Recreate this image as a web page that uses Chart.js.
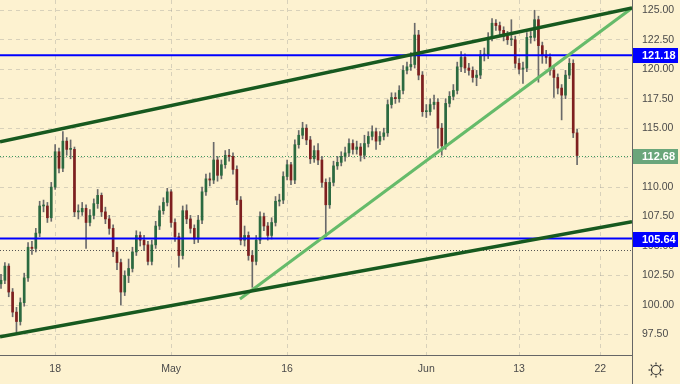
<!DOCTYPE html>
<html><head><meta charset="utf-8">
<script src="https://cdn.jsdelivr.net/npm/chart.js@4.4.1/dist/chart.umd.min.js"></script>
<style>html,body{margin:0;padding:0;background:#FDF2D0;}canvas{display:block}</style>
</head><body>
<canvas id="c" width="680" height="384"></canvas>
<script>
// ---- data (8-hour bars, 3 per trading day) ----
const firstOpen = 101.8;
const closes = [102.1,103.3,101.1,99.4,98.6,100.2,102.3,104.9,104.8,106.1,
108.4,108.4,107.4,110.0,113.0,111.6,113.9,113.2,113.2,107.9,
107.9,108.2,107.0,107.6,108.6,109.3,107.9,107.3,106.5,104.5,
103.6,101.1,102.5,103.1,104.5,105.9,105.5,105.1,103.7,105.1,
106.7,108.0,108.7,109.6,107.0,105.8,104.2,108.0,107.3,106.5,
105.6,107.2,109.6,110.7,110.6,112.3,111.0,111.9,112.7,112.6,
111.5,108.9,105.5,105.9,104.2,103.7,105.5,107.5,106.7,105.9,
107.0,108.8,108.9,110.9,111.9,110.6,113.6,114.4,115.0,114.0,
112.4,113.1,112.3,110.4,108.5,110.4,111.8,112.1,112.6,112.9,
113.7,113.2,113.4,112.7,113.7,114.3,114.7,113.9,114.3,114.6,
117.0,117.6,117.5,118.2,119.9,120.2,120.4,122.9,119.5,116.4,
116.4,117.0,117.2,115.0,113.5,117.1,117.7,118.2,120.2,121.0,
120.1,119.9,119.3,119.5,121.2,121.2,122.7,123.9,123.7,123.3,
122.8,122.5,122.5,120.5,120.0,120.1,122.7,122.7,124.2,122.0,
121.2,121.0,119.9,119.3,118.4,117.8,119.5,120.5,114.6,112.68];
const highs = [102.6,103.6,103.5,101.4,99.8,100.6,102.7,105.3,105.4,106.5,
108.8,108.9,108.7,110.4,113.6,113.3,114.7,114.2,114.0,113.4,
108.5,108.7,108.5,108.1,109.0,109.8,109.5,108.3,107.6,106.8,
104.9,103.9,102.9,103.9,104.9,106.3,106.2,105.9,105.4,105.5,
107.1,108.4,109.1,109.9,109.8,107.3,106.1,108.4,108.5,107.6,
106.8,107.6,110.0,111.1,111.2,113.8,112.6,112.3,113.1,113.2,
112.9,111.8,109.2,106.7,106.2,104.6,105.9,107.9,107.8,107.0,
107.4,109.2,109.4,111.3,112.3,112.1,114.0,114.8,115.5,115.3,
114.3,113.5,113.7,112.6,110.7,110.8,112.2,112.6,113.0,113.4,
114.1,114.0,113.9,113.7,114.4,114.7,115.2,115.0,114.7,115.0,
117.4,118.0,118.0,118.6,120.3,120.6,121.4,123.9,123.3,119.8,
117.0,117.5,117.8,117.5,115.4,117.5,118.1,118.7,120.6,121.5,
121.3,120.5,120.2,119.9,121.6,121.8,123.1,124.3,124.2,124.0,
123.6,123.2,124.2,122.8,120.9,120.6,123.1,123.2,125.0,124.5,
122.3,121.6,121.3,120.2,119.6,118.7,119.9,120.9,120.8,114.9];
const lows = [101.4,101.8,100.7,99.0,97.7,98.3,99.9,102.0,104.3,104.5,
105.8,107.9,107.0,107.1,109.8,111.2,111.3,112.7,112.4,107.5,
107.3,107.6,104.8,106.7,107.3,108.2,107.5,106.9,106.0,104.1,
103.0,100.0,100.8,101.9,102.8,104.2,105.0,104.6,103.4,103.4,
104.8,106.4,107.7,108.4,106.6,105.4,103.2,103.9,106.9,106.1,
105.2,105.3,106.9,109.3,110.1,110.3,110.5,110.7,111.6,112.2,
111.1,108.5,105.1,105.0,103.8,101.5,103.4,105.2,106.3,105.5,
105.6,106.7,108.4,108.6,110.6,110.2,110.3,113.3,114.1,113.6,
112.0,112.1,111.9,110.0,105.8,108.2,110.1,111.5,111.8,112.2,
112.6,112.8,112.8,112.2,112.4,113.4,114.0,113.2,113.6,114.0,
114.3,116.7,117.1,117.2,117.9,119.6,119.9,120.1,119.1,116.0,
115.9,116.1,116.6,113.3,112.7,113.2,116.8,117.4,117.9,119.8,
119.7,119.5,118.9,118.6,119.2,120.7,120.9,122.4,123.3,122.9,
122.4,122.1,122.0,120.1,119.6,118.8,119.8,122.2,122.4,118.9,
120.5,120.5,119.5,117.6,117.9,115.7,117.5,119.2,114.2,111.9];

// time axis (bar index) tick positions and labels
const tickPositions = [14, 44, 74, 110, 134, 155];
const tickLabels = ['18', 'May', '16', 'Jun', '13', '22'];
const xRange = [-0.26, 163.2];
// price axis
const priceTicks = [97.5, 100, 102.5, 105, 107.5, 110, 112.5, 115, 117.5, 120, 122.5, 125];
const yRange = [95.76, 125.87];
// drawn lines
const channelX = [-0.26, 163.2];
const upperChannelY = [113.85, 125.19];
const lowerChannelY = [97.31, 107.07];
const supportX = [61.8, 163.2];
const supportY = [100.51, 125.19];
const levels = [121.18, 105.64];
const lastPrice = 112.68;
const refLevel = 104.66;

// ---- build ----
const opens = closes.map((c, i) => i === 0 ? firstOpen : closes[i - 1]);
const wickData = closes.map((c, i) => ({x: i, y: [lows[i], highs[i]]}));
const bodyData = closes.map((c, i) => ({x: i, y: [opens[i], c]}));
const bodyColors = closes.map((c, i) => c >= opens[i] ? '#2b6a40' : '#7e1f1f');

const lineDs = (xs, ys, color, w) => ({
  type: 'line', data: xs.map((x, i) => ({x, y: ys[i]})),
  borderColor: color, borderWidth: w, pointRadius: 0, order: 0, tension: 0
});

const FONT = '"Liberation Sans", Arial, sans-serif';
const GRID = 'rgba(140,140,140,0.32)';

const overlay = {
  id: 'overlay',
  beforeDatasetsDraw(chart) {
    const {ctx, chartArea: a, scales: {y}} = chart;
    ctx.save();
    ctx.lineWidth = 1;
    ctx.setLineDash([1, 2]);
    let py = Math.round(y.getPixelForValue(refLevel)) + 0.5;
    ctx.strokeStyle = '#555';
    ctx.beginPath(); ctx.moveTo(a.left, py); ctx.lineTo(a.right, py); ctx.stroke();
    py = Math.round(y.getPixelForValue(lastPrice)) + 0.5;
    ctx.strokeStyle = '#3f9a5e';
    ctx.beginPath(); ctx.moveTo(a.left, py); ctx.lineTo(a.right, py); ctx.stroke();
    ctx.restore();
  },
  afterDraw(chart) {
    const {ctx, chartArea: a, scales: {y}} = chart;
    ctx.save();
    const box = (v, bg) => {
      const py = Math.round(y.getPixelForValue(v));
      ctx.fillStyle = bg;
      ctx.fillRect(a.right + 1, py - 7, 45, 15);
      ctx.fillStyle = '#fff';
      ctx.font = 'bold 11px ' + FONT;
      ctx.textAlign = 'left';
      ctx.textBaseline = 'middle';
      ctx.fillText(v.toFixed(2), a.right + 10, py + 1);
    };
    levels.forEach(v => box(v, '#0000ff'));
    box(lastPrice, '#6aa67b');
    // axis separators
    ctx.strokeStyle = '#666';
    ctx.lineWidth = 1;
    ctx.beginPath();
    ctx.moveTo(a.right + 0.5, 0); ctx.lineTo(a.right + 0.5, 384);
    ctx.moveTo(0, a.bottom + 0.5); ctx.lineTo(a.right, a.bottom + 0.5);
    ctx.stroke();
    // settings icon
    const cx = 656, cy = 370;
    ctx.strokeStyle = '#333';
    ctx.lineWidth = 1.2;
    ctx.beginPath(); ctx.arc(cx, cy, 4.5, 0, Math.PI * 2); ctx.stroke();
    for (let k = 0; k < 8; k++) {
      const ang = k * Math.PI / 4;
      ctx.beginPath();
      ctx.moveTo(cx + Math.cos(ang) * 5.5, cy + Math.sin(ang) * 5.5);
      ctx.lineTo(cx + Math.cos(ang) * 7.5, cy + Math.sin(ang) * 7.5);
      ctx.stroke();
    }
    ctx.restore();
  }
};

new Chart(document.getElementById('c'), {
  type: 'bar',
  data: {
    datasets: [
      lineDs(channelX, upperChannelY, '#17591f', 3.5),
      lineDs(channelX, lowerChannelY, '#17591f', 3.5),
      lineDs(supportX, supportY, '#66bb6a', 3),
      lineDs(channelX, [levels[0], levels[0]], '#0000ff', 2),
      lineDs(channelX, [levels[1], levels[1]], '#0000ff', 2),
      {data: bodyData, backgroundColor: bodyColors, barThickness: 2, minBarLength: 1, grouped: false, order: 1},
      {data: wickData, backgroundColor: '#6a6a6a', barThickness: 1, grouped: false, order: 2}
    ]
  },
  options: {
    responsive: false, animation: false, devicePixelRatio: 1,
    layout: {padding: 0},
    plugins: {legend: {display: false}, tooltip: {enabled: false}},
    scales: {
      x: {
        type: 'linear', min: xRange[0], max: xRange[1], offset: false,
        afterBuildTicks: s => { s.ticks = tickPositions.map(v => ({value: v})); },
        afterFit: s => { s.height = 29; s.paddingLeft = 0; s.paddingRight = 0; },
        grid: {offset: false, color: GRID, drawTicks: false},
        border: {display: false, dash: [4, 4]},
        ticks: {
          padding: 8, color: '#4a4a4a', maxRotation: 0, autoSkip: false,
          font: {size: 10.5, family: FONT},
          callback: (v, i) => tickLabels[i]
        }
      },
      y: {
        type: 'linear', position: 'right', min: yRange[0], max: yRange[1],
        afterBuildTicks: s => { s.ticks = priceTicks.map(v => ({value: v})); },
        afterFit: s => { s.width = 48; s.paddingTop = 0; s.paddingBottom = 0; },
        grid: {color: c => (c.tick && c.tick.value === 105) ? 'rgba(0,0,0,0)' : GRID, drawTicks: false},
        border: {display: false, dash: [4, 4]},
        ticks: {
          padding: 10, color: '#4a4a4a', crossAlign: 'near',
          font: {size: 10.5, family: FONT},
          callback: v => Number(v).toFixed(2)
        }
      }
    }
  },
  plugins: [overlay]
});
</script>
</body></html>
